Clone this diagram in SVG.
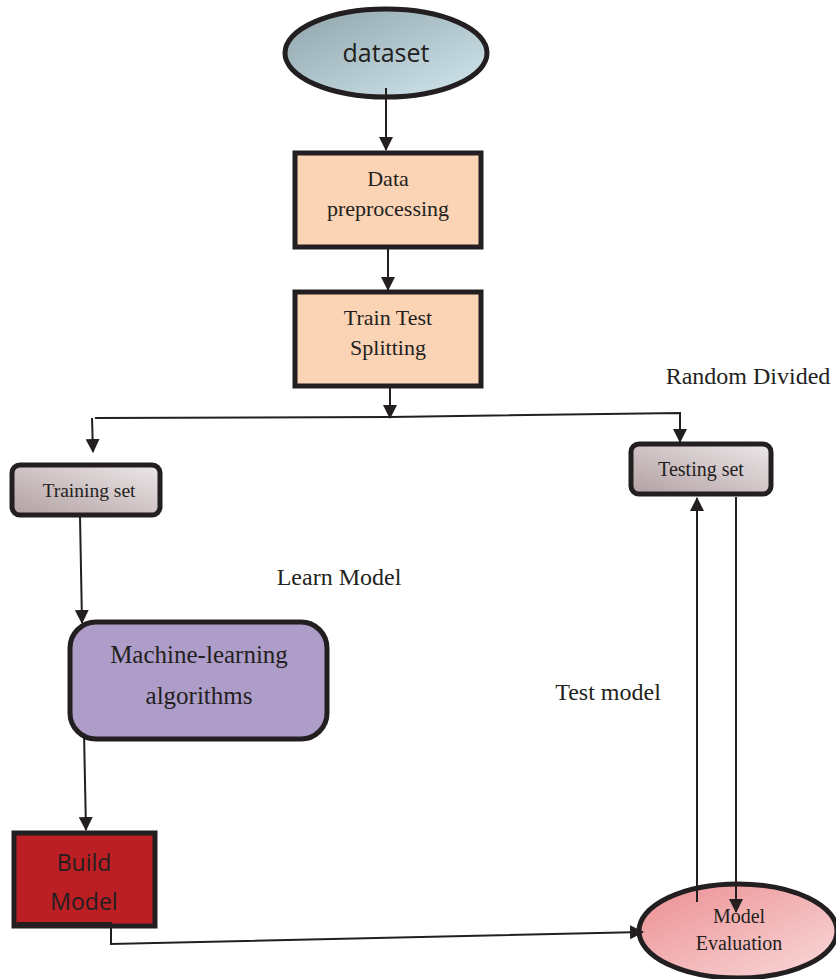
<svg xmlns="http://www.w3.org/2000/svg" width="836" height="979" viewBox="0 0 836 979">
<defs>
<linearGradient id="gDs" x1="0" y1="0" x2="1" y2="1"><stop offset="0" stop-color="#8ea3aa"/><stop offset="1" stop-color="#d3e8ee"/></linearGradient>
<linearGradient id="gSet" x1="0" y1="1" x2="1" y2="0"><stop offset="0" stop-color="#b3a0a3"/><stop offset="1" stop-color="#ece7e8"/></linearGradient>
<linearGradient id="gEv" x1="0" y1="0" x2="1" y2="1"><stop offset="0" stop-color="#ec8e92"/><stop offset="1" stop-color="#f9dada"/></linearGradient>
<marker id="ahs" markerWidth="14" markerHeight="14" refX="13" refY="7" orient="auto" markerUnits="userSpaceOnUse"><path d="M0,0 L14,7 L0,14 z" fill="#231f20"/></marker>
</defs>
<style>
.sq{stroke:#231f20;stroke-width:5;}
.t{font-family:"Liberation Serif","Times New Roman",serif;fill:#231f20;text-anchor:middle;}
.s{font-family:"Open Sans","Noto Sans",sans-serif;fill:#231f20;text-anchor:middle;}
.c{fill:none;stroke:#231f20;stroke-width:2;}
</style>
<rect width="836" height="979" fill="#fff"/>
<g id="dataset">
<ellipse cx="386" cy="53" rx="101" ry="44" fill="url(#gDs)" class="sq"/>
<text class="s" x="386" y="62" font-size="25">dataset</text>
</g>
<g id="preprocessing">
<rect x="295" y="153" width="186" height="94" fill="#fbd3b5" class="sq"/>
<text class="t" x="388" y="186" font-size="22">Data</text>
<text class="t" x="388" y="216" font-size="22">preprocessing</text>
</g>
<g id="splitting">
<rect x="295" y="292" width="186" height="94" fill="#fbd3b5" class="sq"/>
<text class="t" x="388" y="325" font-size="22">Train Test</text>
<text class="t" x="388" y="355" font-size="22">Splitting</text>
</g>
<text class="t" x="748" y="384" font-size="24">Random Divided</text>
<g id="training">
<rect x="12" y="465" width="148" height="50" rx="8" fill="url(#gSet)" class="sq" stroke-width="4"/>
<text class="t" x="89" y="497" font-size="19.5">Training set</text>
</g>
<g id="testing">
<rect x="631" y="444" width="140" height="50" rx="8" fill="url(#gSet)" class="sq" stroke-width="4"/>
<text class="t" x="701" y="476" font-size="20">Testing set</text>
</g>
<text class="t" x="339" y="585" font-size="24">Learn Model</text>
<text class="t" x="608" y="700" font-size="24">Test model</text>
<g id="ml">
<rect x="70" y="622" width="257" height="117" rx="26" fill="#ae9dc8" class="sq"/>
<text class="t" x="199" y="663" font-size="25">Machine-learning</text>
<text class="t" x="199" y="704" font-size="25">algorithms</text>
</g>
<g id="build">
<rect x="14" y="833" width="141" height="93" fill="#bb1e23" class="sq" stroke-width="4.5"/>
<text class="s" x="84" y="871" font-size="23">Build</text>
<text class="s" x="84" y="910" font-size="23">Model</text>
</g>
<g id="evaluation">
<ellipse cx="738" cy="931" rx="99" ry="47" fill="url(#gEv)" class="sq"/>
<text class="t" x="739" y="923" font-size="20">Model</text>
<text class="t" x="739" y="950" font-size="20">Evaluation</text>
</g>
<g id="connectors">
<line class="c" x1="386" y1="88" x2="386" y2="150" marker-end="url(#ahs)"/>
<line class="c" x1="388" y1="249" x2="388" y2="290" marker-end="url(#ahs)"/>
<line class="c" x1="390" y1="388" x2="390" y2="418" marker-end="url(#ahs)"/>
<polyline class="c" points="95,418 390,417 680,413 680,442" marker-end="url(#ahs)"/>
<line class="c" x1="92" y1="418" x2="93" y2="452" marker-end="url(#ahs)"/>
<line class="c" x1="80" y1="516" x2="82" y2="623" marker-end="url(#ahs)"/>
<line class="c" x1="84" y1="733" x2="86" y2="830" marker-end="url(#ahs)"/>
<polyline class="c" points="17,923 111,923 111,944 643,932" marker-end="url(#ahs)"/>
<line class="c" x1="697" y1="902" x2="697" y2="498" marker-end="url(#ahs)"/>
<line class="c" x1="736" y1="497" x2="736" y2="912" marker-end="url(#ahs)"/>
</g>
</svg>
